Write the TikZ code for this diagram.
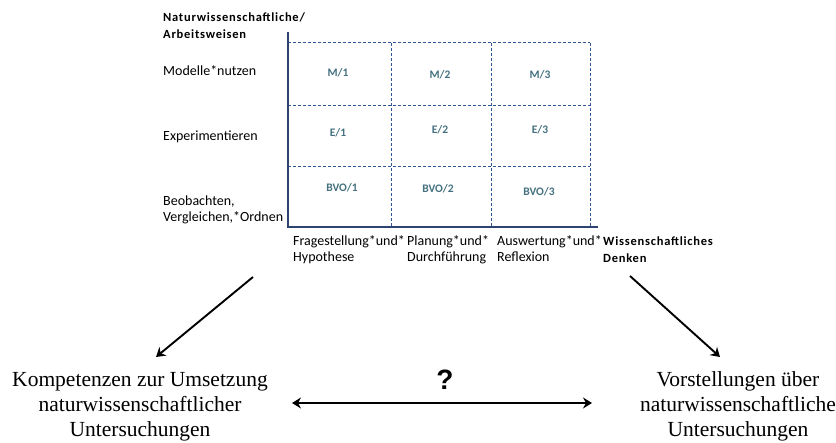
\documentclass[tikz,border=0pt]{standalone}
\usepackage{fontspec}
\newfontfamily\calfont{Carlito}
\newfontfamily\calhdr[LetterSpace=6]{Carlito}
\newfontfamily\tnrfont{Liberation Serif}
\newfontfamily\arifont{Liberation Sans}
\usetikzlibrary{arrows.meta}
\definecolor{gridblue}{HTML}{2F5597}
\definecolor{axisblue}{HTML}{2E4470}
\definecolor{celltext}{HTML}{44707F}
\tikzset{
  lbl/.style={inner sep=0pt, anchor=base west, font=\calfont\fontsize{14}{16}\selectfont, align=left},
  hdr/.style={inner sep=0pt, anchor=base west, font=\calhdr\bfseries\fontsize{12.5}{17}\selectfont, align=left},
  cell/.style={inner sep=0pt, font=\calfont\bfseries\fontsize{11.5}{14}\selectfont, text=celltext},
  big/.style={inner sep=0pt, anchor=base, font=\tnrfont\fontsize{21.5}{25}\selectfont, align=center},
  gridline/.style={draw=gridblue, line width=1pt, dash pattern=on 3pt off 2pt},
  axisline/.style={draw=axisblue, line width=1.6pt},
  tip/.tip={Stealth[length=9pt,width=11pt,inset=3pt]},
  arr/.style={draw=black, line width=1.9pt, -tip},
  darr/.style={draw=black, line width=1.9pt, tip-tip},
}
\begin{document}
\begin{tikzpicture}[x=1pt,y=-1pt]
\useasboundingbox (0,0) rectangle (836,443);
% grid coordinates
\coordinate (o) at (288,227);
\coordinate (ytop) at (288,32);
\coordinate (xend) at (598,227);
% dashed grid
\draw[gridline] (288,43) -- (590,43);
\draw[gridline] (288,106) -- (590,106);
\draw[gridline] (288,167) -- (590,167);
\draw[gridline] (391,43) -- (391,227);
\draw[gridline] (491,43) -- (491,227);
\draw[gridline] (590,43) -- (590,227);
% axes
\draw[axisline] (ytop) -- (o) -- (xend);
% cells
\node[cell] (m1) at (338,73) {M/1};
\node[cell] (m2) at (440,75) {M/2};
\node[cell] (m3) at (540,75) {M/3};
\node[cell] (e1) at (338,133) {E/1};
\node[cell] (e2) at (440,130) {E/2};
\node[cell] (e3) at (540,130) {E/3};
\node[cell] (b1) at (342,188) {BVO/1};
\node[cell] (b2) at (438,189) {BVO/2};
\node[cell] (b3) at (539,192) {BVO/3};
% headers (anchor = baseline of last line)
\node[hdr] (hy) at (163,39) {Naturwissenschaftliche/\\Arbeitsweisen};
\node[hdr] (hx) at (603,263) {Wissenschaftliches\\Denken};
% row labels
\node[lbl] (r1) at (163,76) {Modelle*nutzen};
\node[lbl] (r2) at (163,141) {Experimentieren};
\node[lbl] (r3) at (163,222) {Beobachten,\\Vergleichen,*Ordnen};
% column labels
\node[lbl] (c1) at (293,262) {Fragestellung*und*\\Hypothese};
\node[lbl] (c2) at (407,262) {Planung*und*\\Durchführung};
\node[lbl] (c3) at (497,262) {Auswertung*und*\\Reflexion};
% bottom texts
\node[big] (kl) at (140,437) {Kompetenzen zur Umsetzung\\naturwissenschaftlicher\\Untersuchungen};
\node[big] (kr) at (738,437) {Vorstellungen über\\naturwissenschaftliche\\Untersuchungen};
\node[inner sep=0pt, font=\arifont\bfseries\fontsize{28}{28}\selectfont] (q) at (445,380) {?};
% arrows
\coordinate (a1s) at (253,277);
\coordinate (a1e) at (156,357);
\coordinate (a2s) at (630,276);
\coordinate (a2e) at (720,357);
\coordinate (dl) at (292,403);
\coordinate (dr) at (592,403);
\draw[arr] (a1s) -- (a1e);
\draw[arr] (a2s) -- (a2e);
\draw[darr] (dl) -- (dr);
\end{tikzpicture}
\end{document}
